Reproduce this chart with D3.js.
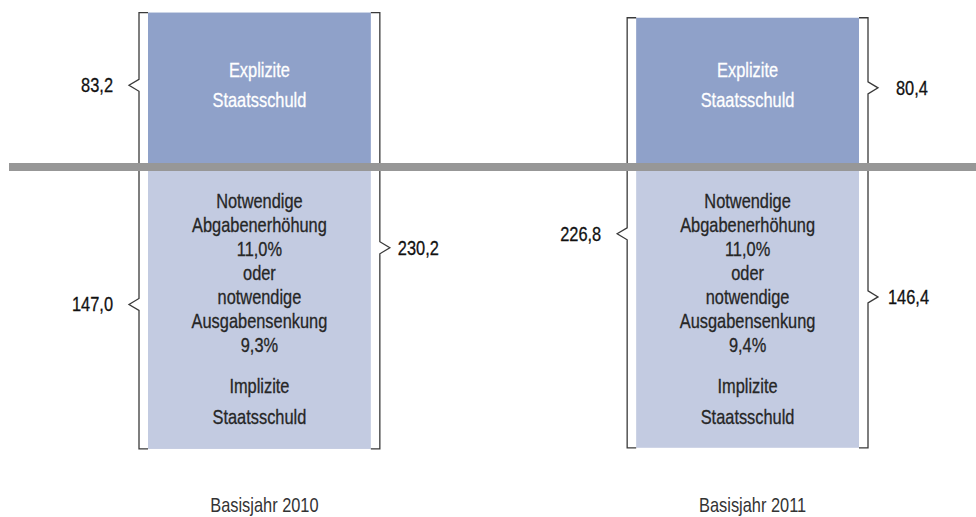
<!DOCTYPE html>
<html>
<head>
<meta charset="utf-8">
<script src="https://cdn.jsdelivr.net/npm/d3@7"></script>
<style>
  body { margin: 0; background: #fff; }
  text { font-family: "Liberation Sans", Arial, sans-serif; }
</style>
</head>
<body>
<div id="chart"></div>
<script>
// Data :
var years = ["Basisjahr 2010", "Basisjahr 2011"];
var explizit = [83.2, 80.4];
var implizit = [147.0, 146.4];
var gesamt = [230.2, 226.8];
var abgabenErhoehung = ["11,0%", "11,0%"];
var ausgabenSenkung = ["9,3%", "9,4%"];

// Global Variables :
var width = 976,
    height = 517;

var col_explizit = "#8fa1c9",
    col_implizit = "#c3cbe1",
    col_line = "#979797",
    col_bracket = "#3a3a3a";

var half_gap = 3;       // white gap round the gray line
var bracket_gap = 9,
    notch_w = 10,
    notch_h = 6;

var squeeze = 0.82;     // no narrow font installed, so squeeze the text a bit

// small nudges of the bracket notches and label gaps (px), same order as brackets below
var tip_shift = [-3, -5, 17, 1, -3, -12];
var label_gap = [16, 16, 8, 16, 18, 10];

var de = d3.formatLocale({decimal: ",", thousands: ".", grouping: [3], currency: ["", " €"]});
var fmt = de.format(".1f");

var svg = d3.select("#chart").append("svg")
  .attr("width", width)
  .attr("height", height);

var x = d3.scaleBand()
  .domain(years)
  .range([148, 859])
  .paddingInner(0.5435)
  .paddingOuter(0);

var y = d3.scaleLinear()
  .domain([-150, 0, 85])
  .range([454.7, 167, 9.2]);

function addText(parent, tx, ty, txt, anchor, color) {
  return parent.append("text")
    .attr("transform", "translate(" + tx + "," + ty + ") scale(" + squeeze + ",1)")
    .attr("dy", "0.35em")
    .attr("text-anchor", anchor)
    .style("font-size", "20px")
    .style("fill", color)
    .style("stroke", color)
    .style("stroke-width", 0.3)
    .text(txt);
}

// Boxes
var g = svg.selectAll("g.year")
  .data(years)
  .enter().append("g")
  .attr("class", "year");

g.append("rect")
  .attr("x", function(d) { return x(d); })
  .attr("width", x.bandwidth())
  .attr("y", function(d, i) { return y(explizit[i]); })
  .attr("height", function(d, i) { return y(0) - half_gap - y(explizit[i]); })
  .style("fill", col_explizit);

g.append("rect")
  .attr("x", function(d) { return x(d); })
  .attr("width", x.bandwidth())
  .attr("y", y(0) + half_gap)
  .attr("height", function(d, i) { return y(-implizit[i]) - y(0) - half_gap; })
  .style("fill", col_implizit);

// texts in the boxes
g.each(function(d, i) {
  var el = d3.select(this);
  var cx = x(d) + x.bandwidth() / 2;

  addText(el, cx, 70, "Explizite", "middle", "#fff");
  addText(el, cx, 99.5, "Staatsschuld", "middle", "#fff");

  var rows = ["Notwendige", "Abgabenerhöhung", abgabenErhoehung[i], "oder",
              "notwendige", "Ausgabensenkung", ausgabenSenkung[i]];
  rows.forEach(function(r, k) {
    addText(el, cx, 201 + k * 24, r, "middle", "#262626");
  });
  addText(el, cx, 386, "Implizite", "middle", "#262626");
  addText(el, cx, 416.5, "Staatsschuld", "middle", "#262626");

  // year label
  addText(el, cx + 5, 505, d, "middle", "#333").style("stroke-width", 0);
});

// Brackets
var brackets = [
  {year: 0, side: "left",  top: explizit[0], bottom: 0,            value: explizit[0]},
  {year: 0, side: "left",  top: 0,           bottom: -implizit[0], value: implizit[0]},
  {year: 0, side: "right", top: explizit[0], bottom: -implizit[0], value: gesamt[0]},
  {year: 1, side: "left",  top: explizit[1], bottom: -implizit[1], value: gesamt[1]},
  {year: 1, side: "right", top: explizit[1], bottom: 0,            value: explizit[1]},
  {year: 1, side: "right", top: 0,           bottom: -implizit[1], value: implizit[1]}
];

brackets.forEach(function(b, i) {
  var yr = years[b.year];
  var dir = b.side == "left" ? -1 : 1;
  var edge = b.side == "left" ? x(yr) : x(yr) + x.bandwidth();
  var bx = edge + dir * bracket_gap;
  var y1 = b.top == 0 ? y(0) + half_gap : y(b.top);
  var y2 = b.bottom == 0 ? y(0) - half_gap : y(b.bottom);
  var ty = (y1 + y2) / 2 + tip_shift[i];
  var tx = bx + dir * notch_w;

  var p = d3.path();
  p.moveTo(edge, y1);
  p.lineTo(bx, y1);
  p.lineTo(bx, ty - notch_h);
  p.lineTo(tx, ty);
  p.lineTo(bx, ty + notch_h);
  p.lineTo(bx, y2);
  p.lineTo(edge, y2);

  svg.append("path")
    .attr("d", p.toString())
    .style("fill", "none")
    .style("stroke", col_bracket)
    .style("stroke-width", 1.3);

  addText(svg, tx + dir * label_gap[i], ty, fmt(b.value),
          b.side == "left" ? "end" : "start", "#111");
});

// gray zero line on top
svg.append("rect")
  .attr("x", 9)
  .attr("width", width - 9)
  .attr("y", y(0) - 4)
  .attr("height", 8)
  .style("fill", col_line);
</script>
</body>
</html>
